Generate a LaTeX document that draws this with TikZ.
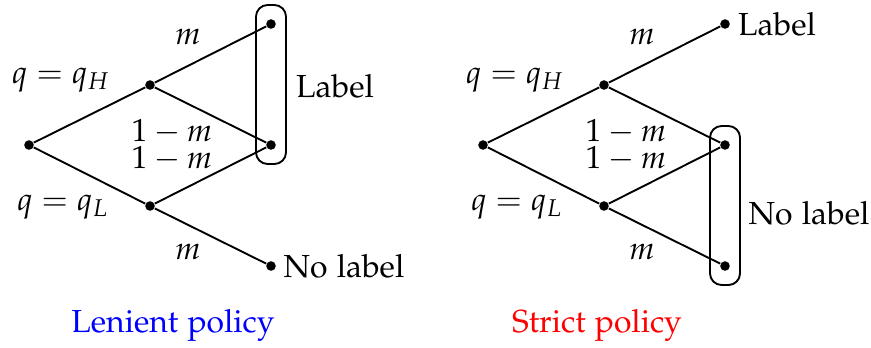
\documentclass[tikz,border=0pt]{standalone}
\usepackage[T1]{fontenc}
\usepackage[sc]{mathpazo}
\usetikzlibrary{calc}
\begin{document}
\begin{tikzpicture}[x=0.345pt,y=-0.345pt,
  every node/.style={font=\fontsize{11}{13}\selectfont},
  dot/.style={circle,fill=black,inner sep=0pt,minimum size=3.3pt},
  edge/.style={line width=0.65pt},
  grp/.style={line width=0.65pt,rounded corners=4pt},
  lbl/.style={inner sep=0pt},
  pair/.style={inner sep=0pt,align=center,font=\fontsize{11}{9.4}\selectfont}]
\useasboundingbox (0,0) rectangle (871,347);
% ---------- Lenient policy ----------
\begin{scope}
\node[dot] (r) at (29,145) {};
\node[dot] (h) at (150,85) {};
\node[dot] (l) at (150,206) {};
\node[dot] (t) at (271,24) {};
\node[dot] (m) at (271,145) {};
\node[dot] (b) at (271,266) {};
\draw[edge] (r) -- (h) (r) -- (l) (h) -- (t) (h) -- (m) (l) -- (m) (l) -- (b);
\draw[grp] ($(t)+(-15,-19)$) rectangle ($(m)+(15,19)$);
\node[lbl] (qh) at (61,80) {$q=q_H$};
\node[lbl] (ql) at (63,207) {$q=q_L$};
\node[lbl] (e1) at (188,37) {$m$};
\node[pair] (e23) at (172,145) {$1-m$\\$1-m$};
\node[lbl] (e4) at (188,252) {$m$};
\node[lbl] (lab) at (335,86) {Label};
\node[lbl] (nol) at (344,266) {No label};
\node[lbl,text=blue] (pol1) at (173,325) {Lenient policy};
\end{scope}
% ---------- Strict policy ----------
\begin{scope}[xshift=454*0.345pt]
\node[dot] (R) at (29,145) {};
\node[dot] (H) at (150,85) {};
\node[dot] (L) at (150,206) {};
\node[dot] (T) at (271,24) {};
\node[dot] (M) at (271,145) {};
\node[dot] (B) at (271,266) {};
\draw[edge] (R) -- (H) (R) -- (L) (H) -- (T) (H) -- (M) (L) -- (M) (L) -- (B);
\draw[grp] ($(M)+(-15,-19)$) rectangle ($(B)+(15,19)$);
\node[lbl] (QH) at (61,80) {$q=q_H$};
\node[lbl] (QL) at (63,207) {$q=q_L$};
\node[lbl] (E1) at (188,37) {$m$};
\node[pair] (E23) at (172,145) {$1-m$\\$1-m$};
\node[lbl] (E4) at (188,252) {$m$};
\node[lbl] (LAB) at (323,24) {Label};
\node[lbl] (NOL) at (355,213) {No label};
\node[lbl,text=red] (pol2) at (143,325) {Strict policy};
\end{scope}
\end{tikzpicture}
\end{document}
